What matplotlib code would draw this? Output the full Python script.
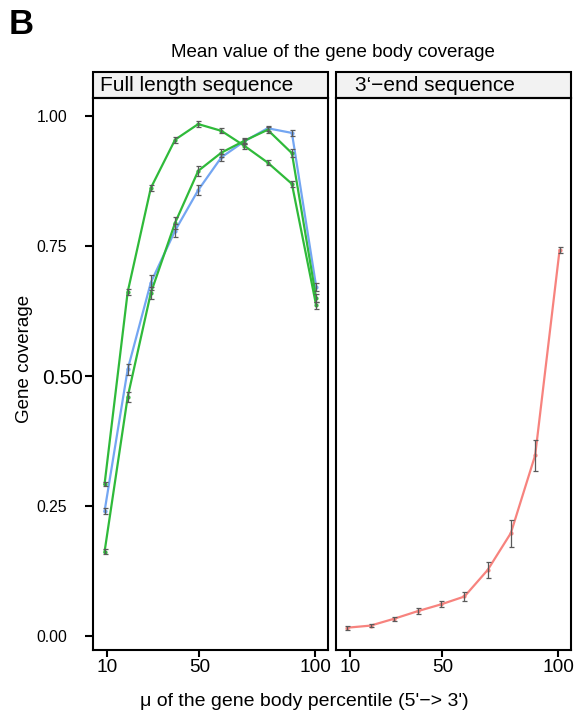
#Mean gene body coverage, two facets (full length vs 3'-end)

import numpy as np
import matplotlib.pyplot as plt
import matplotlib.transforms as mtransforms

plt.rcParams['font.family'] = ['Liberation Sans', 'DejaVu Sans']

#percentile positions
pct = [9, 19, 29, 39.5, 49.5, 59.5, 69.5, 79.5, 90, 100.5]

#full length sequence
green_a = [0.292, 0.662, 0.862, 0.955, 0.985, 0.972, 0.943, 0.911, 0.870, 0.636]
green_a_err = [0.004, 0.005, 0.006, 0.006, 0.005, 0.005, 0.005, 0.005, 0.006, 0.006]
green_b = [0.162, 0.460, 0.660, 0.795, 0.895, 0.930, 0.953, 0.974, 0.929, 0.650]
green_b_err = [0.005, 0.010, 0.012, 0.012, 0.010, 0.008, 0.006, 0.006, 0.008, 0.008]
blue = [0.240, 0.513, 0.680, 0.780, 0.858, 0.921, 0.952, 0.977, 0.968, 0.672]
blue_err = [0.006, 0.010, 0.015, 0.012, 0.010, 0.007, 0.005, 0.005, 0.005, 0.008]

#3'-end sequence
red = [0.016, 0.020, 0.033, 0.048, 0.061, 0.076, 0.127, 0.198, 0.348, 0.742]
red_err = [0.004, 0.003, 0.004, 0.005, 0.006, 0.008, 0.016, 0.026, 0.030, 0.006]

panels = ['Full length sequence', '3\u2018\u2212end sequence']
yticks = [0.0, 0.25, 0.5, 0.75, 1.0]
ytick_labels = ['0.00', '0.25', '0.50', '0.75', '1.00']
xticks = [10, 50, 100]

GREEN = '#2fba3a'
BLUE = '#74a6f2'
RED = '#f7837e'
ERR = '#5a5a5a'

fig = plt.figure(figsize=(5.74, 7.14), dpi=100)
ax1 = fig.add_axes([0.162, 0.0896, 0.409, 0.773])
ax2 = fig.add_axes([0.585, 0.0896, 0.410, 0.773])

def draw_series(ax, y, err, color):
	ax.plot(pct, y, color=color, lw=1.6, marker='o', ms=2, zorder=2)
	ax.errorbar(pct, y, yerr=err, fmt='none', ecolor=ERR, elinewidth=0.9,
	            capsize=1.8, capthick=0.9, zorder=3)

draw_series(ax1, blue, blue_err, BLUE)
draw_series(ax1, green_a, green_a_err, GREEN)
draw_series(ax1, green_b, green_b_err, GREEN)
draw_series(ax2, red, red_err, RED)

strip_x = [0.03, 0.08]
for ax, name, sx in zip([ax1, ax2], panels, strip_x):
	ax.set_xlim(4, 105.5)
	ax.set_ylim(-0.027, 1.035)
	ax.set_xticks(xticks)
	ax.set_xticklabels([str(t) for t in xticks], fontsize=13.7)
	for s in ax.spines.values():
		s.set_linewidth(1.5)
	ax.tick_params(axis='x', length=5, width=1.5, pad=1.5)
	ax.tick_params(axis='y', length=5.5, width=1.5, pad=13)
	#facet strip
	strip = plt.Rectangle((0, 1.0), 1, 0.047, transform=ax.transAxes, fc='#f2f2f2',
	                      ec='black', lw=1.5, clip_on=False, zorder=0)
	ax.add_patch(strip)
	ax.text(sx, 1.023, name, transform=ax.transAxes, ha='left', va='center', fontsize=15)

ax1.set_yticks(yticks)
ax1.set_yticklabels(ytick_labels, fontsize=11.3)
for lab in ax1.get_yticklabels():
	if lab.get_text() == '0.50':
		lab.set_fontsize(15)
		lab.set_transform(lab.get_transform() +
		                  mtransforms.ScaledTranslation(11/72, 0, fig.dpi_scale_trans))
ax2.set_yticks(yticks)
ax2.tick_params(axis='y', left=False, labelleft=False)

fig.text(0.043, 0.497, 'Gene coverage', rotation=90, ha='center', va='center', fontsize=13.5)
fig.text(0.531, 0.017, '\u03bc of the gene body percentile (5\'\u2212> 3\')',
         ha='center', va='center', fontsize=14)
fig.text(0.580, 0.927, 'Mean value of the gene body coverage', ha='center', va='center', fontsize=13.5)
fig.text(0.015, 0.965, 'B', ha='left', va='center', fontsize=25, fontweight='bold')

fig.savefig('out.png', dpi=100)
